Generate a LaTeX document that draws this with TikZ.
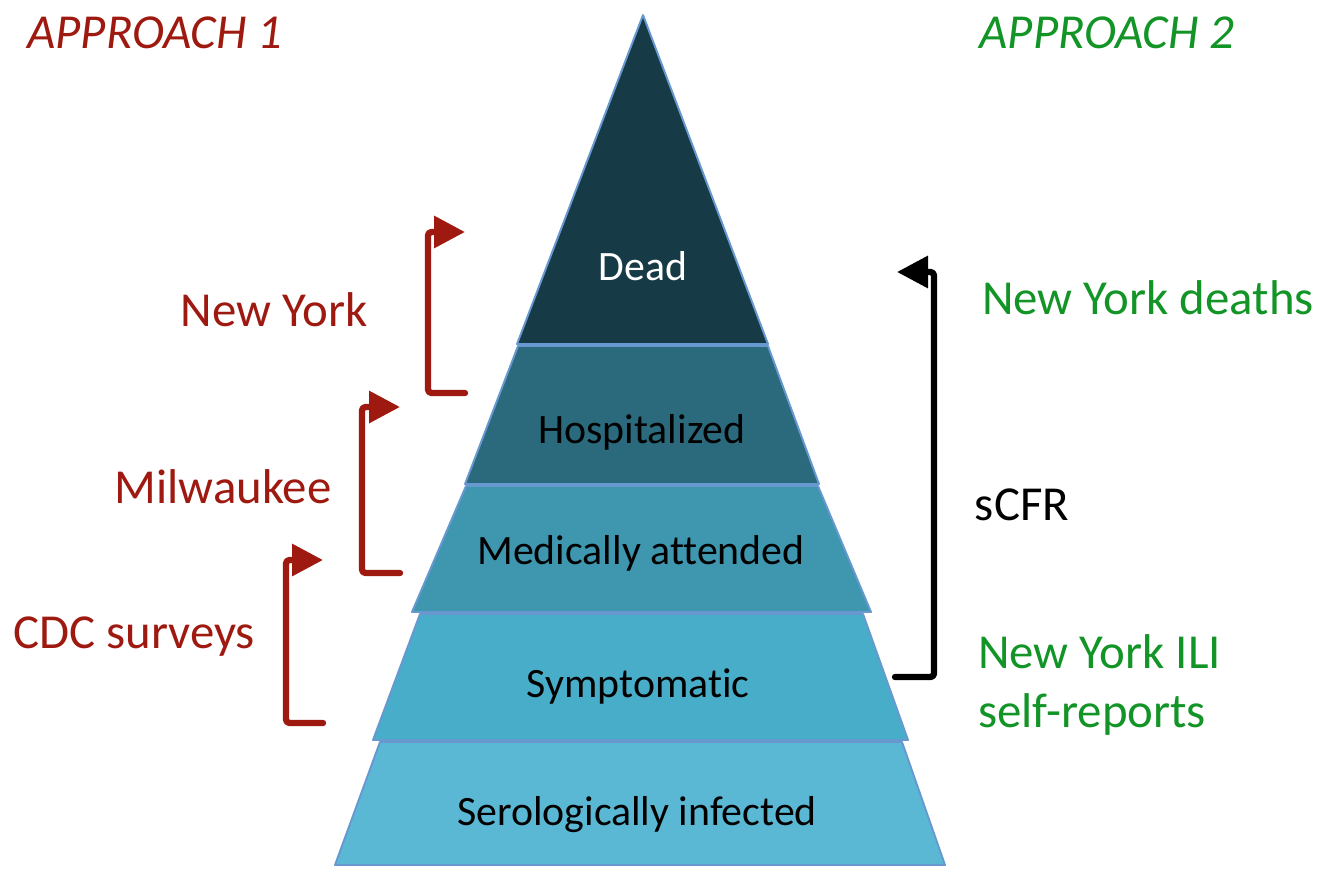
\documentclass[tikz,border=0pt]{standalone}
\usepackage{fontspec}
\setmainfont{Carlito}[Ligatures=NoCommon]
\usetikzlibrary{arrows.meta}
\definecolor{apred}{RGB}{158,26,16}
\definecolor{apgreen}{RGB}{18,148,38}
\definecolor{lvedge}{RGB}{104,152,208}
\definecolor{lvdead}{RGB}{22,58,70}
\definecolor{lvhosp}{RGB}{42,106,124}
\definecolor{lvmed}{RGB}{62,150,175}
\definecolor{lvsymp}{RGB}{72,173,200}
\definecolor{lvsero}{RGB}{90,184,212}
\newcommand{\bigtxt}{\fontsize{27.8}{34}\selectfont}
\newcommand{\lvtxt}{\fontsize{23.8}{28}\selectfont}
\begin{document}
\begin{tikzpicture}[x=0.02cm,y=-0.02cm, line join=round, line cap=round, >={Triangle[length=0.62cm,width=0.62cm]}]
	\useasboundingbox (0,0) rectangle (1334,868);
	\tikzset{lv/.style={draw=lvedge, line width=1.1pt},
		lvlabel/.style={font=\lvtxt, inner sep=0pt},
		bracket/.style={line width=3.6pt, ->, rounded corners=2pt}}
	%%Tầng của kim tự tháp
	\filldraw[lv, fill=lvsero] (380,742)--(902,742)--(945,865)--(335,865)--cycle;
	\filldraw[lv, fill=lvsymp] (420,614)--(863,614)--(908,740)--(373,740)--cycle;
	\filldraw[lv, fill=lvmed] (466,486)--(818,486)--(871,612)--(412,612)--cycle;
	\filldraw[lv, fill=lvhosp] (518,346)--(768,346)--(819,484)--(465,484)--cycle;
	\filldraw[lv, fill=lvdead] (643,15)--(768,344)--(517,344)--cycle;
	\node[lvlabel, text=white] (dead) at (643,266) {Dead};
	\node[lvlabel] (hosp) at (642,432) {Hospitalized};
	\node[lvlabel] (med) at (641,553) {Medically attended};
	\node[lvlabel] (symp) at (638,686) {Symptomatic};
	\node[lvlabel] (sero) at (637,815) {Serologically infected};
	%%Approach 1
	\node[text=apred, font=\bigtxt\itshape] (apA) at (155,33) {APPROACH 1};
	\node[text=apred, font=\bigtxt] (ny) at (274,310) {New York};
	\node[text=apred, font=\bigtxt] (milw) at (223,487) {Milwaukee};
	\node[text=apred, font=\bigtxt] (cdc) at (134,637) {CDC surveys};
	\coordinate (nyB) at (465,393);
	\coordinate (nyT) at (465,232);
	\coordinate (milwB) at (400,573);
	\coordinate (milwT) at (400,407);
	\coordinate (cdcB) at (323,723);
	\coordinate (cdcT) at (323,560);
	\draw[bracket, apred] (nyB)--++(-37,0) |- (nyT);
	\draw[bracket, apred] (milwB)--++(-38,0) |- (milwT);
	\draw[bracket, apred] (cdcB)--++(-37,0) |- (cdcT);
	%%Approach 2
	\node[text=apgreen, font=\bigtxt\itshape] (apB) at (1107,33) {APPROACH 2};
	\node[text=apgreen, font=\bigtxt] (nyd) at (1148,298) {New York deaths};
	\node[font=\bigtxt] (scfr) at (1022,505) {sCFR};
	\node[text=apgreen, font=\bigtxt, align=left, anchor=west] (ili) at (972,685) {New York ILI\\self-reports};
	\coordinate (cfrB) at (895,677);
	\coordinate (cfrT) at (897,272);
	\draw[bracket] (cfrB)--++(39,0) |- (cfrT);
\end{tikzpicture}
\end{document}
